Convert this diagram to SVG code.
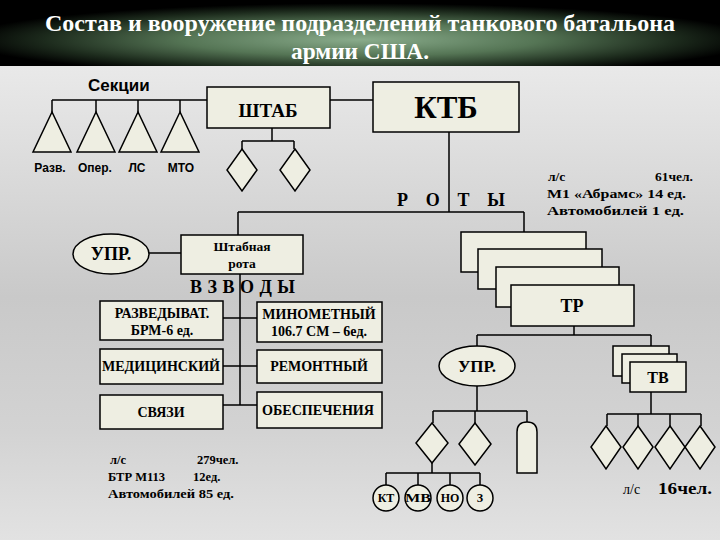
<svg xmlns="http://www.w3.org/2000/svg" width="720" height="540" viewBox="0 0 720 540">
<defs>
<linearGradient id="bg" x1="0" y1="0" x2="0" y2="1">
<stop offset="0" stop-color="#f2f2f2"/>
<stop offset="0.3" stop-color="#dcdcdc"/>
<stop offset="0.55" stop-color="#c9c9c9"/>
<stop offset="0.8" stop-color="#d3d3d3"/>
<stop offset="1" stop-color="#e2e2e2"/>
</linearGradient>
<radialGradient id="band" cx="0.5" cy="0.6" r="0.55">
<stop offset="0" stop-color="#8aac8c"/>
<stop offset="0.45" stop-color="#557555"/>
<stop offset="0.8" stop-color="#1c2a1c"/>
<stop offset="1" stop-color="#000"/>
</radialGradient>
</defs>
<style>
.box{fill:#eeeee2;stroke:#000;stroke-width:1.5}
.ln{fill:none;stroke:#000;stroke-width:1.5}
.s{font-family:"Liberation Serif","Times New Roman",serif;font-weight:bold;fill:#000}
.a{font-family:"Liberation Sans",Arial,sans-serif;font-weight:bold;fill:#000}
.c{text-anchor:middle}
</style>
<rect x="0" y="0" width="720" height="540" fill="url(#bg)"/>
<rect x="0" y="0" width="720" height="66" fill="url(#band)"/>
<rect x="0" y="66" width="720" height="2" fill="#e8e8e8"/>
<text class="s c" x="360" y="31" font-size="24" style="fill:#fff" textLength="630" lengthAdjust="spacingAndGlyphs">Состав и вооружение подразделений танкового батальона</text>
<text class="s c" x="360" y="59" font-size="24" style="fill:#fff" textLength="138" lengthAdjust="spacingAndGlyphs">армии США.</text>

<g id="connectors">
<path class="ln" d="M52,100 H207 M330,100 H373 M52,100 V112 M96,100 V112 M138,100 V112 M180,100 V112"/>
<path class="ln" d="M272,128 V141 M242,141 H294 M242,141 V149 M294,141 V149"/>
<path class="ln" d="M449,132 V212 M238,212 H524 M238,212 V235 M524,212 V232"/>
<path class="ln" d="M149,253 H181"/>
<path class="ln" d="M240,274 V405 M223,318 H257 M223,366 H257 M223,405 H257"/>
<path class="ln" d="M574,326 V335 M477,335 H651 M477,335 V346 M651,335 V346"/>
<path class="ln" d="M477,386 V411 M433,411 H527 M433,411 V423 M475,411 V423 M527,411 V422"/>
<path class="ln" d="M432,463 V473 M386,473 H480 M386,473 V485 M418,473 V485 M450,473 V485 M480,473 V485"/>
<path class="ln" d="M651,392 V414 M607,414 H701 M607,414 V426 M638,414 V426 M670,414 V426 M701,414 V426"/>
</g>

<text class="a" x="88" y="91" font-size="17">Секции</text>

<g id="sec-razv"><polygon class="box" points="52,112 33,152 71,152"/><text class="a c" x="50" y="172" font-size="12">Разв.</text></g>
<g id="sec-oper"><polygon class="box" points="96,112 77,152 115,152"/><text class="a c" x="95" y="172" font-size="12">Опер.</text></g>
<g id="sec-ls"><polygon class="box" points="138,112 119,152 157,152"/><text class="a c" x="137" y="172" font-size="12">ЛС</text></g>
<g id="sec-mto"><polygon class="box" points="180,112 161,152 199,152"/><text class="a c" x="181" y="172" font-size="12">МТО</text></g>

<g id="shtab"><rect class="box" x="207" y="87" width="123" height="41"/><text class="s c" x="268" y="117" font-size="19">ШТАБ</text></g>
<g id="ktb"><rect class="box" x="373" y="82" width="146" height="50"/><text class="s c" x="446" y="118" font-size="31">КТБ</text></g>

<g id="shtab-d1"><polygon class="box" points="242,149 257,170 242,191 227,170"/></g>
<g id="shtab-d2"><polygon class="box" points="295,149 310,170 295,191 280,170"/></g>

<text class="s" x="397" y="206" font-size="18" textLength="108" lengthAdjust="spacing">Р  О  Т  Ы</text>

<g id="ktb-info">
<text class="s" x="548" y="181" font-size="13.5">л/с</text>
<text class="s" x="693" y="181" font-size="13.5" text-anchor="end">61чел.</text>
<text class="s" x="547" y="198" font-size="13.5" textLength="139" lengthAdjust="spacingAndGlyphs">М1 «Абрамс» 14 ед.</text>
<text class="s" x="547" y="215" font-size="13.5" textLength="137" lengthAdjust="spacingAndGlyphs">Автомобилей  1 ед.</text>
</g>

<g id="upr-left"><ellipse class="box" cx="111" cy="254" rx="38" ry="20"/><text class="s c" x="111" y="260" font-size="18">УПР.</text></g>
<g id="shtabnaya-rota"><rect class="box" x="181" y="235" width="122" height="39"/><text class="s c" x="242" y="251" font-size="13.5">Штабная</text><text class="s c" x="242" y="268" font-size="13.5">рота</text></g>

<text class="s" x="190" y="293" font-size="18" textLength="105" lengthAdjust="spacing">В З В  О Д Ы</text>

<g id="razv"><rect class="box" x="100" y="301" width="123" height="39"/><text class="s c" x="162" y="318" font-size="14">РАЗВЕДЫВАТ.</text><text class="s c" x="162" y="335" font-size="14">БРМ-6 ед.</text></g>
<g id="med"><rect class="box" x="100" y="349" width="123" height="35"/><text class="s c" x="161" y="371" font-size="14" textLength="118" lengthAdjust="spacingAndGlyphs">МЕДИЦИНСКИЙ</text></g>
<g id="svyazi"><rect class="box" x="100" y="395" width="123" height="34"/><text class="s c" x="161" y="417" font-size="14">СВЯЗИ</text></g>
<g id="minomet"><rect class="box" x="257" y="302" width="125" height="40"/><text class="s c" x="319" y="319" font-size="14">МИНОМЕТНЫЙ</text><text class="s c" x="319" y="336" font-size="14">106.7 СМ – 6ед.</text></g>
<g id="remont"><rect class="box" x="257" y="350" width="125" height="33"/><text class="s c" x="319" y="371" font-size="14">РЕМОНТНЫЙ</text></g>
<g id="obesp"><rect class="box" x="257" y="392" width="125" height="36"/><text class="s c" x="318" y="415" font-size="14" textLength="112" lengthAdjust="spacingAndGlyphs">ОБЕСПЕЧЕНИЯ</text></g>

<g id="bn-info">
<text class="s" x="110" y="464" font-size="12.5">л/с</text>
<text class="s" x="197" y="464" font-size="12.5">279чел.</text>
<text class="s" x="108" y="481" font-size="12.5">БТР М113</text>
<text class="s" x="193" y="481" font-size="12.5">12ед.</text>
<text class="s" x="108" y="498" font-size="12.5" textLength="126" lengthAdjust="spacingAndGlyphs">Автомобилей  85 ед.</text>
</g>

<g id="rota1"><rect class="box" x="461" y="232" width="125" height="40"/></g>
<g id="rota2"><rect class="box" x="478" y="249" width="124" height="40"/></g>
<g id="rota3"><rect class="box" x="496" y="267" width="123" height="40"/></g>
<g id="tr"><rect class="box" x="511" y="285" width="123" height="41"/><text class="s c" x="572" y="312" font-size="18">ТР</text></g>

<g id="upr-right"><ellipse class="box" cx="477" cy="366" rx="38" ry="20"/><text class="s c" x="477" y="372" font-size="17">УПР.</text></g>

<g id="tv1"><rect class="box" x="613" y="346" width="56" height="30"/></g>
<g id="tv2"><rect class="box" x="622" y="354" width="55" height="29"/></g>
<g id="tv"><rect class="box" x="630" y="362" width="56" height="30"/><text class="s c" x="658" y="383" font-size="16">ТВ</text></g>

<g id="upr-d1"><polygon class="box" points="432,423 448,443 432,463 416,443"/></g>
<g id="upr-d2"><polygon class="box" points="475,423 491,444 475,465 459,444"/></g>
<g id="upr-veh"><path class="box" d="M517,473 V432 Q517,422 527,422 Q537,422 537,432 V473 Z"/></g>

<g id="kt"><circle class="box" cx="386" cy="498" r="13"/><text class="s c" x="386" y="502" font-size="12">КТ</text></g>
<g id="mv"><circle class="box" cx="418" cy="498" r="13"/><text class="s c" x="418" y="502" font-size="12" textLength="26" lengthAdjust="spacingAndGlyphs">МВ</text></g>
<g id="no"><circle class="box" cx="450" cy="498" r="13"/><text class="s c" x="450" y="502" font-size="12">НО</text></g>
<g id="z"><circle class="box" cx="480" cy="498" r="13"/><text class="s c" x="480" y="502" font-size="12">З</text></g>

<g id="tv-d1"><polygon class="box" points="606,426 621,447 606,469 591,447"/></g>
<g id="tv-d2"><polygon class="box" points="638,426 653,447 638,469 623,447"/></g>
<g id="tv-d3"><polygon class="box" points="670,426 685,447 670,469 655,447"/></g>
<g id="tv-d4"><polygon class="box" points="700,426 715,447 700,469 685,447"/></g>

<text class="s" x="623" y="494" font-size="14" style="font-weight:normal">л/с</text>
<text class="s" x="658" y="494" font-size="16" textLength="54" lengthAdjust="spacingAndGlyphs">16чел.</text>
</svg>
